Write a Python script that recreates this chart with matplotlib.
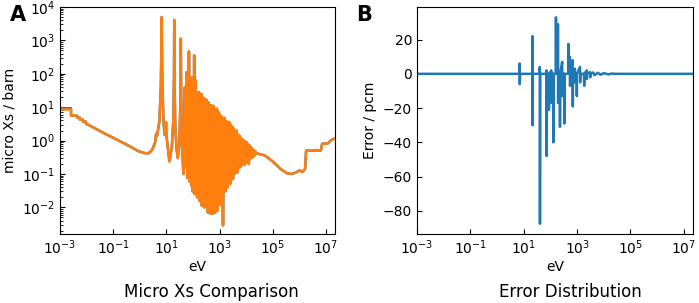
import numpy as np
import matplotlib
matplotlib.use("Agg")
import matplotlib.pyplot as plt
from matplotlib.ticker import NullLocator

# micro cross section (eV, barn)
energy_xs = [
    1e-3, 2.6e-3, 2.61e-3, 4.4e-3, 4.41e-3, 5.6e-3, 5.61e-3, 7.3e-3, 7.31e-3, 9.5e-3, 9.51e-3,
    0.0123, 0.05, 0.2, 0.43, 0.9, 1.6, 2.2, 3.0, 3.8, 4.1, 4.5, 5.5, 6.2, 6.5, 6.65, 6.8, 7.1,
    7.8, 8.5, 9.5, 9.7, 10.0, 13, 16, 18.5, 19.4, 19.8, 20.2, 21.5, 24, 27, 31, 34, 35, 36, 39, 44,
    50, 53, 57, 61, 65, 68, 70.7, 75, 82, 88, 91.7, 97, 103, 106, 111, 117, 124, 130, 137, 144,
    151, 159, 168, 176, 186, 195, 206, 218, 229, 240, 253, 266, 283, 298, 314, 331, 348, 366,
    386, 406, 427, 450, 475, 500, 527, 554, 584, 616, 649, 684, 720, 758, 798, 840, 885, 932,
    981, 1035, 1090, 1148, 1209, 1273, 1306, 1350, 1395, 1470, 1550, 1640, 1725, 1820, 1920,
    2020, 2130, 2240, 2360, 2490, 2650, 2820, 3000, 3200, 3400, 3620, 3850, 4100, 4370, 4650,
    4950, 5260, 5600, 5960, 6350, 6760, 7200, 7660, 8150, 8680, 9240, 9840, 10470, 11150, 11870,
    12630, 13450, 14300, 15240, 16220, 17270, 18380, 19560, 20820, 22160, 23600,
    5e4, 1e5, 2e5, 3.5e5, 5.2e5, 8e5, 1.05e6, 1.25e6, 1.37e6, 1.65e6, 1.8e6, 6.5e6, 7.2e6,
    1.2e7, 1.6e7, 2.2e7,
]
xs_calc = [
    8.55, 8.55, 5.57, 5.57, 4.86, 4.86, 4.24, 4.24, 3.70, 3.70, 3.23,
    2.9, 1.6, 0.92, 0.67, 0.48, 0.42, 0.42, 0.55, 0.9, 1.6, 1.4, 4, 40, 600, 5000, 600, 40,
    4, 1.5, 2.5, 3.5, 1.5, 0.24, 0.6, 5, 100, 4100, 100, 3, 0.6, 0.30, 0.8, 20, 1130, 20, 0.6, 0.1,
    40, 0.17, 111, 0.076, 7.3, 0.48, 467, 0.06, 14, 0.044, 79, 0.03, 28, 0.1, 355, 0.025, 65, 0.03, 28, 0.02,
    25, 0.05, 28, 0.0157, 20, 0.03, 25, 0.011, 17, 0.02, 19, 0.01, 14, 0.04, 17, 0.0099, 12.5, 0.007,
    14, 0.015, 11, 0.0065, 11.5, 0.02, 9.5, 0.0065, 11, 0.012, 9, 0.007, 7.3, 0.02, 9, 0.008, 7.3, 0.03,
    6.3, 0.012, 5.5, 0.04, 5.2, 0.015, 4.8, 0.0029, 4.2, 0.06, 4.8, 0.03, 3.9, 0.05, 3.7,
    0.04, 3.2, 0.08, 3.5, 0.05, 3.0, 0.08, 2.6, 0.07, 2.3, 0.1, 1.87, 0.12, 2.0, 0.11,
    1.5, 0.15, 1.4, 0.16, 1.2, 0.18, 1.1, 0.2, 1.0, 0.19, 0.95, 0.22, 0.88, 0.25, 0.78,
    0.2, 0.73, 0.3, 0.63, 0.3, 0.55, 0.33, 0.52, 0.36, 0.48, 0.42,
    0.36, 0.24, 0.14, 0.105, 0.1, 0.115, 0.13, 0.115, 0.12, 0.14, 0.5, 0.51, 0.8,
    0.83, 1.05, 1.16,
]
xs_ref = list(xs_calc)
xs_ref[0:2] = [9.3, 9.3]

# error distribution (eV, pcm)
energy_err = [
    1e-3, 6.8, 7.0, 7.1, 7.3, 20.8, 21.2, 21.5, 22, 39, 40, 40.5, 41.5, 70, 71.5, 72.5, 74,
    86, 88, 90, 108, 111, 114, 126, 128, 131, 159, 161, 164, 189, 191, 194, 197, 225, 228, 232,
    275, 280, 285, 326, 332, 338, 462, 470, 478, 536, 544, 552, 680, 690, 700, 830, 845, 860,
    965, 975, 990, 1280, 1300, 1320, 1810, 1840, 1870, 2300, 2330, 2360, 3070, 3100, 3130,
    4000, 4500, 6000, 7500, 1e4, 1.5e4, 2e4, 2.5e4, 2.2e7,
]
err_pcm = [
    0, 0, 6, -6, 0, 0, 22, -30, 0, 0, 4, -87.5, 0, 0, 2, -48, 0,
    0, -21, 0, 2, -17, 0, 0, -40, 0, 0, 33, 0, 0, 29, -17, 0, 0, -31, 0,
    7, -13, 0, 0, -29, 0, 0, 17.5, 0, 10, -7, 0, 8, -19, 0, 3, -5, 0,
    0, -13, 0, 4, -5, 0, 0, -7, 0, 2, -3, 0, 1, -2, 0,
    0.8, -0.8, 0.6, -0.5, 0.4, -0.3, 0.2, 0, 0,
]

fig = plt.figure(figsize=(6.99, 3.03), dpi=100)
ax1 = fig.add_axes([60 / 699, 69 / 303, 275 / 699, 227 / 303])
ax2 = fig.add_axes([417 / 699, 69 / 303, 276 / 699, 227 / 303])

ax1.plot(energy_xs, xs_ref, color="#1f77b4", lw=1.8)
ax1.plot(energy_xs, xs_calc, color="#ff7f0e", lw=1.8)
ax1.set_xscale("log")
ax1.set_yscale("log")
ax1.set_xlim(1e-3, 2.2e7)
ax1.set_ylim(1.6e-3, 1e4)
ax1.set_xticks([1e-3, 1e-1, 1e1, 1e3, 1e5, 1e7])
ax1.set_yticks([1e-2, 1e-1, 1e0, 1e1, 1e2, 1e3, 1e4])
ax1.xaxis.set_minor_locator(NullLocator())
ax1.set_xlabel("eV", fontsize=10)
ax1.set_ylabel("micro Xs / barn", fontsize=10)

ax2.plot(energy_err, err_pcm, color="#1f77b4", lw=1.8)
ax2.set_xscale("log")
ax2.set_xlim(1e-3, 2.2e7)
ax2.set_xticks([1e-3, 1e-1, 1e1, 1e3, 1e5, 1e7])
ax2.xaxis.set_minor_locator(NullLocator())
ax2.set_yticks([20, 0, -20, -40, -60, -80])
ax2.set_xlabel("eV", fontsize=10)
ax2.set_ylabel("Error / pcm", fontsize=10)

for ax in (ax1, ax2):
    ax.tick_params(which="both", direction="in", labelsize=10)
    ax.xaxis.labelpad = 2

fig.text(18 / 699, 1 - 15 / 303, "A", fontsize=15, fontweight="bold", ha="center", va="center")
fig.text(364 / 699, 1 - 15 / 303, "B", fontsize=15, fontweight="bold", ha="center", va="center")
fig.text(211 / 699, 11 / 303, "Micro Xs Comparison", fontsize=12, ha="center", va="center")
fig.text(570 / 699, 11 / 303, "Error Distribution", fontsize=12, ha="center", va="center")

fig.savefig("out.png", dpi=100)
